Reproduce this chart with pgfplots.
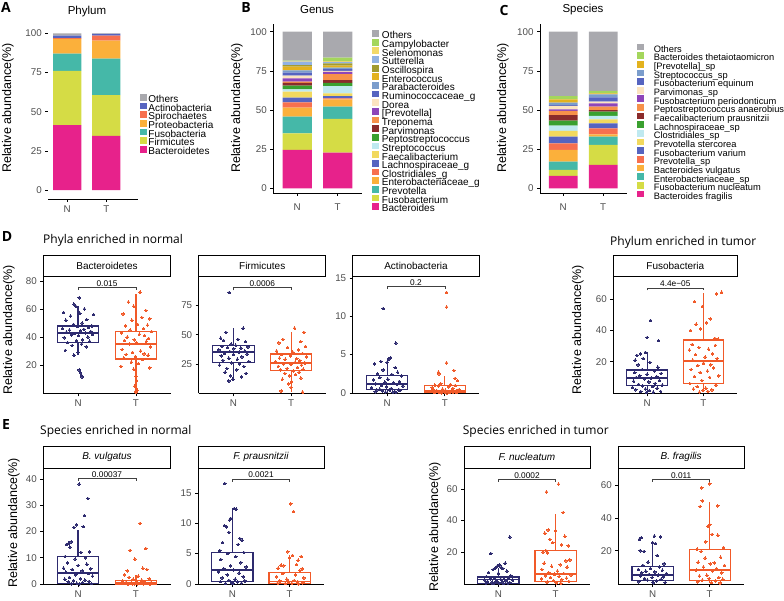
\documentclass[border=0pt]{standalone}
\usepackage{fontspec}
\setmainfont{Liberation Sans}
\newfontfamily\osans{Open Sans}
\usepackage{pgfplots}
\pgfplotsset{compat=1.18}
\usepgfplotslibrary{statistics}

\definecolor{tickgray}{HTML}{4D4D4D}
\definecolor{navyc}{HTML}{2E2B6F}
\definecolor{orangec}{HTML}{F15A29}
\definecolor{cMag}{HTML}{E7228B}
\definecolor{cYG}{HTML}{D5DC45}
\definecolor{cTeal}{HTML}{45B8A8}
\definecolor{cOra}{HTML}{FBB03B}
\definecolor{cCoral}{HTML}{F7704F}
\definecolor{cBlue}{HTML}{5664C0}
\definecolor{cGray}{HTML}{A9A9AE}
\definecolor{cCamp}{HTML}{A4D65C}
\definecolor{cSele}{HTML}{F2D96A}
\definecolor{cSutt}{HTML}{91B2E2}
\definecolor{cOsci}{HTML}{A19B30}
\definecolor{cGold}{HTML}{E3B21E}
\definecolor{cSteel}{HTML}{7B9DCC}
\definecolor{cBeige}{HTML}{FCE4C0}
\definecolor{cPurp}{HTML}{8E45B9}
\definecolor{cLOra}{HTML}{F7914A}
\definecolor{cDRed}{HTML}{8B2B2B}
\definecolor{cGreen}{HTML}{3AA02F}
\definecolor{cCyan}{HTML}{BFE9F0}
\definecolor{cYel}{HTML}{F2D95E}

\pgfplotsset{
  stackax/.style={scale only axis, anchor=south west, ybar stacked, bar width=0.72,
    enlargelimits=false, xtick={1,2}, xticklabels={N,T}, ytick={0,25,50,75,100},
    axis lines*=left, axis line style={line width=0.7pt}, tick align=outside,
    major tick length=3pt, tick style={black,line width=0.6pt},
    ticklabel style={font=\fontsize{9.8}{10}\selectfont, text=tickgray},
    /pgf/number format/assume math mode=true, clip=false,
    legend cell align=left, reverse legend,
    legend style={draw=none, fill=none, inner sep=0pt, row sep=-1.78pt,
      font=\fontsize{10}{10}\selectfont, anchor=north west,
      nodes={inner sep=0pt, text height=6.9pt, text depth=1.77pt}}},
  boxax/.style={scale only axis, anchor=south west, xmin=0.4, xmax=2.6,
    enlargelimits=false, xtick={1,2}, xticklabels={N,T},
    axis lines*=left, axis line style={line width=0.8pt}, tick align=outside,
    major tick length=3pt, tick style={black,line width=0.6pt},
    ticklabel style={font=\fontsize{9.8}{10}\selectfont, text=tickgray},
    /pgf/number format/assume math mode=true, clip=false,
    boxplot/draw direction=y,
    boxplot/every median/.style={line width=1.8pt}}
}

\newcommand{\seg}[4]{\addplot[fill=#1, draw=none] coordinates {(1,#2) (2,#3)}; \addlegendentry{#4}}
\newcommand{\bx}[7]{\addplot[draw=#1, fill=white, line width=1.1pt, boxplot prepared={draw position=#2, lower whisker=#3, lower quartile=#4, median=#5, upper quartile=#6, upper whisker=#7, box extend=0.72, whisker extend=0}] coordinates {};}
\newcommand{\pts}[2]{\addplot[color=#1, only marks, mark=*, mark size=1.3pt, mark options={fill=#1, draw=#1, line width=0pt}] coordinates {#2};}
\newcommand{\brk}[3]{\addplot[line width=0.5pt, color=black!75, mark=none] coordinates {(1,#2)(1,#1)(2,#1)(2,#2)};
  \node[anchor=south, inner sep=0.6pt, font=\fontsize{8.3}{8}\selectfont] at (axis cs:1.5,#1) {#3};}
\newcommand{\strip}[5]{\draw[line width=0.9pt, fill=white] (#1,#2) rectangle (#3,#4);
  \node[font=\fontsize{10}{10}\selectfont] at ({(#1+#3)/2},{(#2+#4)/2}) {#5};}
\newcommand{\ylab}[2]{\node[rotate=90, font=\fontsize{12.5}{13}\selectfont] at (#1,#2) {Relative abundance(\%)};}

\begin{document}
\begin{tikzpicture}[x=1pt,y=1pt]
\path[use as bounding box] (0,0) rectangle (784,600);

% ---------- A
\begin{axis}[stackax, at={(48.3pt,401pt)}, width=90pt, height=173.5pt,
  xmin=0.515, xmax=2.82, ymin=-5.7, ymax=105, y axis line style={draw=none},
  every axis plot post/.append style={legend image code/.code={\fill[##1] (0pt,-0.6pt) rectangle (6.7pt,6.1pt);}},
  legend style={at={(1.019,0.607)}, column sep=1.5pt}]
\seg{cMag}{41.5}{34.5}{Bacteroidetes}
\seg{cYG}{34.5}{26}{Firmicutes}
\seg{cTeal}{11}{23.3}{Fusobacteria}
\seg{cOra}{9.5}{11.5}{Proteobacteria}
\seg{cCoral}{0.5}{3.3}{Spirochaetes}
\seg{cBlue}{1.5}{1}{Actinobacteria}
\seg{cGray}{1.5}{0.4}{Others}
\end{axis}

% ---------- B
\begin{axis}[stackax, at={(273.3pt,407pt)}, width=88.7pt, height=169.1pt,
  xmin=0.41, xmax=2.6, ymin=-3, ymax=105, xticklabel style={yshift=-4pt},
  every axis plot post/.append style={legend image code/.code={\fill[##1] (0pt,-0.6pt) rectangle (6.7pt,6.1pt);}},
  legend style={at={(1.109,0.964)}, column sep=3.4pt}]
\seg{cMag}{24.5}{22.8}{Bacteroides}
\seg{cYG}{10.6}{21.5}{Fusobacterium}
\seg{cTeal}{10.6}{7.8}{Prevotella}
\seg{cOra}{5.8}{4.7}{Enterobacteriaceae\_g}
\seg{cCoral}{3.4}{0.6}{Clostridiales\_g}
\seg{cBlue}{3.0}{1.5}{Lachnospiraceae\_g}
\seg{cYel}{3.8}{1.7}{Faecalibacterium}
\seg{cCyan}{1.5}{4.7}{Streptococcus}
\seg{cGreen}{2.3}{2.1}{Peptostreptococcus}
\seg{cDRed}{1.9}{1.7}{Parvimonas}
\seg{cLOra}{0.7}{3.8}{Treponema}
\seg{cPurp}{2.1}{1.5}{{[}Prevotella]}
\seg{cBeige}{1.7}{0.6}{Dorea}
\seg{cBlue}{1.9}{1.1}{Ruminococcaceae\_g}
\seg{cSteel}{1.5}{0.9}{Parabacteroides}
\seg{cGold}{2.4}{1.3}{Enterococcus}
\seg{cOsci}{1.0}{1.5}{Oscillospira}
\seg{cSutt}{2.2}{0.9}{Sutterella}
\seg{cSele}{0.4}{0.6}{Selenomonas}
\seg{cCamp}{0.2}{2.1}{Campylobacter}
\seg{cGray}{18.5}{16.6}{Others}
\end{axis}

% ---------- C
\begin{axis}[stackax, at={(540pt,407pt)}, width=87.2pt, height=169.1pt,
  xmin=0.42, xmax=2.6, ymin=-3, ymax=105, xticklabel style={yshift=-4pt},
  every axis plot post/.append style={legend image code/.code={\fill[##1] (0pt,-0.6pt) rectangle (6.7pt,6.1pt);}},
  legend style={at={(1.112,0.885)}, column sep=10pt, font=\fontsize{9.3}{10}\selectfont}]
\seg{cMag}{7.9}{14.9}{Bacteroides fragilis}
\seg{cYG}{3.8}{12.8}{Fusobacterium nucleatum}
\seg{cTeal}{5.3}{5.3}{Enterobacteriaceae\_sp}
\seg{cOra}{7.5}{1.5}{Bacteroides vulgatus}
\seg{cCoral}{4.2}{3.8}{Prevotella\_sp}
\seg{cBlue}{4.3}{3.2}{Fusobacterium varium}
\seg{cYel}{3.6}{2.5}{Prevotella stercorea}
\seg{cCyan}{3.4}{2.2}{Clostridiales\_sp}
\seg{cGreen}{3.2}{2.7}{Lachnospiraceae\_sp}
\seg{cDRed}{3.6}{1.1}{Faecalibacterium prausnitzii}
\seg{cLOra}{2.6}{2.1}{Peptostreptococcus anaerobius}
\seg{cPurp}{1.0}{2.2}{Fusobacterium periodonticum}
\seg{cBeige}{2.2}{1.0}{Parvimonas\_sp}
\seg{cBlue}{0.6}{2.8}{Fusobacterium equinum}
\seg{cSteel}{1.5}{1.9}{Streptococcus\_sp}
\seg{cGold}{2.1}{0.6}{{[}Prevotella]\_sp}
\seg{cCamp}{2.1}{1.7}{Bacteroides thetaiotaomicron}
\seg{cGray}{41.1}{37.7}{Others}
\end{axis}

% ---------- D1 Bacteroidetes
\begin{axis}[boxax, at={(43.3pt,206.7pt)}, width=127.4pt, height=117.3pt, ymin=-0.2, ymax=83.6, ytick={20,40,60,80}]
\bx{navyc}{1}{27}{35.9}{43}{47.9}{62}
\bx{orangec}{2}{0.5}{24.3}{35}{43.8}{70.7}
\pts{navyc}{(1.02,68)(0.93,63.5)(0.96,62)(1.11,60)(0.75,57.5)(1.03,57)(1.27,56)(0.87,55)(1.15,52.5)(0.79,52)(1.07,50)(0.92,49)(1.24,48)(0.99,47.5)(1.18,47)(0.73,46)(1.10,45.5)(0.85,45)(1.04,44.5)(1.22,44)(0.80,43.5)(1.13,43)(0.94,42.5)(1.25,42)(0.89,41.5)(1.01,41)(1.17,40)(0.76,39.5)(1.08,38)(0.97,37.5)(1.20,37)(0.82,36)(1.06,35)(0.90,34)(1.14,33)(0.78,30.5)(1.00,29)(0.93,27)(1.02,16.5)(1.04,14.5)(1.06,12.5)(1.07,11.5)}
\pts{orangec}{(2.07,72)(1.87,65)(1.96,62)(2.17,59)(1.78,56.5)(2.10,54)(2.24,53)(1.93,52)(2.03,49)(2.20,48.5)(1.82,48)(2.13,46)(1.90,45)(2.27,44)(1.75,43)(2.06,42)(2.15,41)(1.85,40)(2.22,39)(1.97,38)(1.80,37.5)(2.18,37)(2.01,36)(1.89,35)(2.25,33)(1.76,31)(2.08,30)(1.94,29)(2.14,28)(1.83,27.5)(2.21,27)(1.99,26)(1.79,25)(2.11,24)(1.92,22)(2.04,21)(1.74,19)(2.24,18)(1.96,17)(2.00,12)(2.01,9)(1.98,5)(2.02,2)(1.99,1)(2.00,0.5)}
\brk{75.5}{73.6}{0.015}
\end{axis}
\strip{43.3}{324}{170.7}{344.3}{Bacteroidetes}

% ---------- D2 Firmicutes
\begin{axis}[boxax, at={(198.7pt,206.7pt)}, width=127pt, height=117.3pt, ymin=0, ymax=100, ytick={25,50,75}]
\bx{navyc}{1}{10.5}{26.4}{35.5}{40.6}{55.4}
\bx{orangec}{2}{1}{19.3}{25.6}{33.5}{52.5}
\pts{navyc}{(0.93,86)(1.17,55.5)(0.87,52)(0.78,47)(1.08,46)(0.83,45)(1.21,44)(0.96,42)(1.04,41)(0.80,40)(1.25,39.5)(0.90,39)(1.13,38.5)(1.01,38)(0.75,37)(1.20,36)(0.94,35.5)(1.10,35)(0.85,34)(1.24,33.5)(1.00,33)(0.79,32)(1.15,31)(0.92,30)(1.07,29)(0.82,28)(1.27,27)(0.97,26)(1.11,25)(0.76,24)(1.18,23)(0.89,21)(1.06,20)(0.86,18)(1.22,17)(0.95,15)(1.14,14)(0.99,12)(0.92,10.5)}
\pts{orangec}{(2.06,55.5)(2.22,52)(1.86,46)(2.17,44)(1.79,43)(2.25,40)(1.94,39)(2.13,37)(1.75,36)(2.03,35)(2.20,34)(1.83,33)(1.99,32)(2.27,31)(1.80,30)(2.10,29.5)(1.90,29)(2.15,28)(1.73,27)(2.07,26.5)(2.24,26)(1.87,25)(2.00,24.5)(2.18,24)(1.78,23)(2.11,22)(1.93,21)(2.21,20.5)(1.82,20)(2.04,19)(2.14,18)(1.89,17)(2.08,16)(1.97,15)(2.17,13)(1.85,12)(2.01,10)(1.96,8)(2.00,5)(1.83,2)(2.20,1)}
\brk{90}{87.7}{0.0006}
\end{axis}
\strip{198.7}{324}{325.7}{344.3}{Firmicutes}

% ---------- D3 Actinobacteria
\begin{axis}[boxax, at={(352.7pt,206.7pt)}, width=126.6pt, height=117.3pt, ymin=-0.05, ymax=15.25, ytick={0,5,10,15}]
\bx{navyc}{1}{0.05}{0.4}{1.2}{2.3}{4.6}
\bx{orangec}{2}{0.01}{0.05}{0.3}{0.95}{2.2}
\pts{navyc}{(0.93,11)(1.15,6.5)(1.06,4.6)(1.03,4.4)(0.89,4.1)(1.00,4.0)(0.78,3.8)(1.14,3.3)(0.93,3.0)(1.18,2.7)(0.83,2.5)(1.08,2.4)(1.25,2.2)(0.87,2.0)(1.01,1.8)(0.76,1.7)(1.21,1.5)(0.96,1.4)(1.11,1.3)(0.80,1.2)(1.17,1.1)(0.90,1.0)(1.27,0.9)(0.99,0.8)(0.73,0.7)(1.07,0.6)(0.87,0.5)(1.20,0.45)(0.82,0.4)(1.04,0.35)(1.22,0.3)(0.92,0.25)(1.13,0.2)(0.79,0.15)(1.10,0.1)(0.97,0.1)(1.15,0.05)}
\pts{orangec}{(2.03,13.1)(2.03,11.2)(2.03,3.9)(2.16,2.9)(1.89,2.7)(1.90,2.5)(2.18,1.9)(2.22,1.6)(1.93,1.2)(2.10,1.1)(1.83,1.0)(2.18,0.95)(1.89,0.9)(2.07,0.8)(1.78,0.7)(2.14,0.6)(1.96,0.5)(2.25,0.45)(1.80,0.4)(2.01,0.35)(2.20,0.3)(1.86,0.3)(2.11,0.25)(1.76,0.2)(1.99,0.15)(2.15,0.1)(1.90,0.1)(2.08,0.05)(1.82,0.05)(2.21,0.03)(1.94,0.02)(2.04,0.01)}
\brk{13.9}{13.55}{0.2}
\end{axis}
\strip{352.7}{324}{479.3}{344.3}{Actinobacteria}

% ---------- D4 Fusobacteria
\begin{axis}[boxax, at={(613.3pt,206.7pt)}, width=124pt, height=117.3pt, ymin=-0.25, ymax=74.95, ytick={20,40,60}]
\bx{navyc}{1}{0.3}{5}{9.8}{14.7}{26}
\bx{orangec}{2}{0.5}{6.1}{20.4}{33.9}{63.8}
\pts{navyc}{(1.06,46.5)(1.00,35.5)(1.20,33.5)(0.97,26)(0.88,25)(0.82,24)(0.93,22)(0.79,21)(1.05,19.5)(0.84,18)(1.19,16.5)(0.91,15)(1.13,14)(0.78,13)(1.25,12.5)(1.00,12)(0.87,11)(1.17,10.5)(0.81,10)(1.07,9.5)(0.95,9)(1.22,8)(0.76,7.5)(1.03,7)(1.14,6)(0.85,5.5)(1.27,5)(0.92,4.5)(1.10,4)(0.74,3.5)(1.18,3)(0.97,2.5)(0.80,2)(1.04,1.5)(1.24,1)(0.89,0.8)(1.11,0.5)(0.99,0.3)}
\pts{orangec}{(2.32,64.5)(2.23,63.5)(1.84,58.5)(1.98,55.5)(2.12,47.5)(2.05,45)(1.87,44)(1.95,41)(1.77,40)(2.20,35)(2.26,34.5)(1.80,31)(2.21,30.5)(1.92,29)(2.09,28)(1.75,27.5)(2.16,25)(1.86,24.5)(2.03,23)(2.24,22)(1.81,21)(2.00,19)(2.13,18)(1.90,17.5)(2.18,16)(1.78,15)(2.07,14)(1.94,13)(2.27,11)(1.84,10.5)(2.11,10)(1.97,8)(1.76,6)(2.22,5)(1.89,4)(2.04,3)(1.82,2.5)(2.15,2)(1.99,1.5)(2.08,1)(1.93,0.5)}
\brk{67.4}{65.7}{4.4e\textminus05}
\end{axis}
\strip{613.3}{324}{737.3}{344.3}{Fusobacteria}

% ---------- E1 B. vulgatus
\begin{axis}[boxax, at={(43.3pt,16pt)}, width=127.4pt, height=115.7pt, ymin=0, ymax=44, ytick={0,10,20,30,40}]
\bx{navyc}{1}{0.05}{0.3}{4.1}{10.4}{20.5}
\bx{orangec}{2}{0}{0}{0.3}{1.5}{3.5}
\pts{navyc}{(1.02,38)(1.17,32.5)(1.11,26)(0.97,22.5)(1.09,21.8)(0.93,21.5)(0.88,16)(0.84,15.5)(0.80,15)(0.86,14)(1.20,12.2)(1.05,12)(0.78,10.5)(1.13,10)(0.95,9.5)(0.82,8)(1.15,7.5)(1.00,7)(0.75,6)(1.22,5.8)(0.90,5.5)(1.07,5)(0.79,4.5)(1.18,4)(0.96,3.5)(1.25,3)(0.85,2.5)(1.04,2)(0.77,1.8)(1.12,1.5)(0.92,1.2)(1.19,1)(0.83,0.8)(1.08,0.5)(0.98,0.3)(1.23,0.2)(0.88,0.1)(1.03,0.05)}
\pts{orangec}{(2.07,23)(2.17,13.5)(1.90,12.8)(1.98,9.5)(2.12,6)(2.19,5.5)(1.85,5)(1.80,3.5)(2.04,3)(1.88,2.5)(2.23,2)(1.95,1.8)(2.10,1.5)(1.77,1.2)(2.15,1)(2.01,0.8)(1.83,0.6)(2.26,0.5)(1.92,0.4)(2.08,0.3)(1.75,0.2)(2.20,0.15)(1.97,0.1)(2.13,0.05)(1.86,0.02)(2.03,0.01)(1.94,0)(2.24,0)}
\brk{40.2}{39.2}{0.00037}
\end{axis}
\strip{43.3}{131.7}{170.7}{153.5}{\itshape B. vulgatus}

% ---------- E2 F. prausnitzii
\begin{axis}[boxax, at={(198pt,16pt)}, width=126pt, height=115.7pt, ymin=0, ymax=19.03, ytick={0,5,10,15}]
\bx{navyc}{1}{0.05}{0.4}{2.3}{5.2}{12.4}
\bx{orangec}{2}{0.02}{0.1}{0.4}{1.9}{4.7}
\pts{navyc}{(0.87,16.5)(1.03,12.4)(1.07,12.3)(0.97,10.8)(0.95,10.5)(0.86,9.6)(0.90,9.4)(0.94,8.5)(1.13,7.5)(1.17,7.2)(0.83,6.8)(1.10,6.5)(0.78,5.5)(1.20,5.2)(0.92,5.0)(1.06,4.5)(0.80,4.0)(1.15,3.5)(0.97,3.0)(1.24,2.8)(0.85,2.5)(1.02,2.3)(0.76,2.0)(1.12,1.8)(0.91,1.5)(1.19,1.2)(0.82,1.0)(1.05,0.8)(0.94,0.6)(1.22,0.5)(0.79,0.4)(1.09,0.3)(0.99,0.2)(1.16,0.15)(0.88,0.1)(1.01,0.05)}
\pts{orangec}{(2.02,13.2)(2.07,11.9)(1.97,5.3)(2.05,4.7)(2.20,4.5)(2.00,4.3)(2.15,3.9)(2.12,3.2)(1.85,3.1)(1.90,3.0)(1.80,2.6)(2.22,2.5)(2.18,2.2)(1.88,1.7)(2.10,1.5)(1.77,1.2)(2.25,1.0)(1.95,0.8)(2.08,0.6)(1.83,0.5)(2.14,0.4)(1.98,0.3)(2.23,0.2)(1.79,0.15)(2.04,0.1)(1.92,0.05)(2.16,0.02)}
\brk{17.3}{16.85}{0.0021}
\end{axis}
\strip{198}{131.7}{324}{153.5}{\itshape F. prausnitzii}

% ---------- E3 F. nucleatum
\begin{axis}[boxax, at={(464pt,16pt)}, width=126pt, height=115.7pt, ymin=-0.2, ymax=73, ytick={20,40,60}]
\bx{navyc}{1}{0.1}{0.3}{2.7}{4.2}{10.1}
\bx{orangec}{2}{0.3}{1.3}{5.9}{21.2}{44.4}
\pts{navyc}{(1.20,29.5)(0.87,19)(1.12,13)(1.02,12)(0.98,11)(1.05,10.5)(0.95,10)(1.08,9.5)(0.91,9)(1.15,8)(0.83,7)(1.00,6.5)(1.22,5)(0.79,4.5)(1.10,4)(0.93,3.5)(1.18,3.2)(0.86,3)(1.04,2.8)(0.76,2.5)(1.25,2.2)(0.97,2)(1.13,1.8)(0.81,1.5)(1.07,1.2)(0.89,1)(1.20,0.8)(0.94,0.6)(1.01,0.5)(0.78,0.4)(1.16,0.3)(0.90,0.2)(1.09,0.1)}
\pts{orangec}{(2.05,63)(1.84,58)(2.13,45)(1.87,34)(2.00,33.5)(1.81,32)(2.16,30)(1.90,28)(1.95,26)(2.10,24.5)(2.22,24)(1.83,21)(1.78,20)(1.86,19.5)(2.25,15)(2.18,14.5)(1.80,13)(2.08,12)(1.93,11)(2.20,10.5)(1.76,9)(2.03,8)(1.88,7)(2.14,6.5)(1.98,6)(2.27,5.5)(1.82,5)(2.06,4.5)(1.91,4)(2.19,3.5)(1.75,3)(2.11,2.5)(1.96,2)(2.23,1.5)(1.85,1)(2.01,0.5)(2.09,0.3)}
\brk{66.3}{64.6}{0.0002}
\end{axis}
\strip{464}{131.7}{590}{153.5}{\itshape F. nucleatum}

% ---------- E4 B. fragilis
\begin{axis}[boxax, at={(618.3pt,16pt)}, width=125.7pt, height=115.7pt, ymin=-0.4, ymax=70.5, ytick={20,40,60}]
\bx{navyc}{1}{0.3}{1.8}{5.3}{10.4}{25.3}
\bx{orangec}{2}{0.3}{1.8}{8.4}{21}{50}
\pts{navyc}{(1.03,29)(1.14,28.5)(0.80,28)(0.77,27)(1.00,25)(1.05,24.5)(0.78,20)(0.85,19.5)(1.08,17)(0.92,13)(1.20,12)(0.83,11)(1.12,10)(0.96,9)(0.75,8.5)(1.17,8)(0.88,7.5)(1.04,7)(0.81,6.5)(1.24,6)(0.94,5.5)(1.10,5)(0.79,4.5)(1.19,4)(0.99,3.5)(0.86,3)(1.15,2.5)(0.91,2)(1.07,1.5)(0.76,1)(1.22,0.5)(1.01,0.3)}
\pts{orangec}{(2.00,61)(1.86,58.5)(1.87,50.5)(1.83,47)(2.14,47.5)(2.00,36)(1.97,35)(2.04,30)(2.14,29.5)(1.93,25.5)(2.24,22)(1.78,21)(1.85,19.5)(2.19,16)(1.92,15.5)(1.80,13)(2.08,12.5)(2.01,12)(2.26,11)(1.89,10)(2.12,9)(1.76,8)(2.05,7.5)(2.21,6.5)(1.95,5)(1.82,4.5)(2.16,3.5)(1.99,3)(2.23,2.5)(1.87,2)(2.10,1.5)(1.79,1)(2.03,0.5)(2.18,0.3)}
\brk{64}{62.35}{0.011}
\end{axis}
\strip{618.3}{131.7}{744}{153.5}{\itshape B. fragilis}

% ---------- texts
\node[font=\fontsize{11.5}{12}\selectfont] at (87,588) {Phylum};
\node[font=\fontsize{11.5}{12}\selectfont] at (317,590) {Genus};
\node[font=\fontsize{11.5}{12}\selectfont] at (583,590) {Species};
\node[font=\osans\bfseries\fontsize{14}{14}\selectfont] at (6,593) {A};
\node[font=\osans\bfseries\fontsize{14}{14}\selectfont] at (246,592) {B};
\node[font=\osans\bfseries\fontsize{14}{14}\selectfont] at (504,589) {C};
\node[font=\osans\bfseries\fontsize{14}{14}\selectfont] at (7,363) {D};
\node[font=\osans\bfseries\fontsize{14}{14}\selectfont] at (6,175) {E};
\node[anchor=west, inner sep=0pt, font=\osans\fontsize{12}{12}\selectfont] at (43,359.3) {Phyla enriched in normal};
\node[anchor=west, inner sep=0pt, font=\osans\fontsize{12}{12}\selectfont] at (610,357.7) {Phylum enriched in tumor};
\node[anchor=west, inner sep=0pt, font=\osans\fontsize{12}{12}\selectfont] at (40,168.3) {Species enriched in normal};
\node[anchor=west, inner sep=0pt, font=\osans\fontsize{12}{12}\selectfont] at (462.7,169) {Species enriched in tumor};
\ylab{8}{492}
\ylab{237}{492}
\ylab{503}{492}
\ylab{9}{270}
\ylab{578}{270}
\ylab{14}{77}
\ylab{435}{73}
\end{tikzpicture}
\end{document}
